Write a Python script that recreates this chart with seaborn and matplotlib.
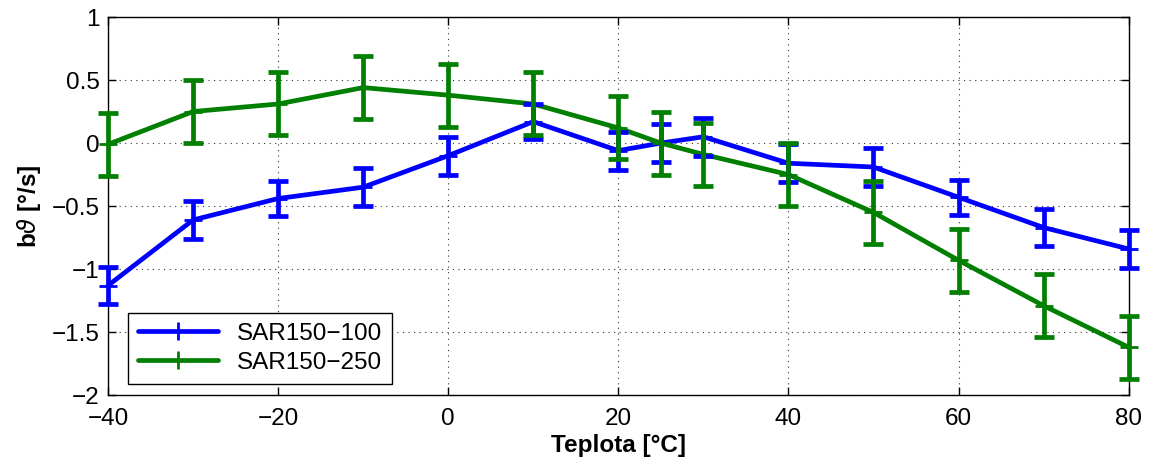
import numpy as np
import pandas as pd
import seaborn as sns
import matplotlib
matplotlib.use('Agg')
import matplotlib.pyplot as plt

# data
teplota = [-40, -30, -20, -10, 0, 10, 20, 25, 30, 40, 50, 60, 70, 80]
b_100 = [-1.13, -0.61, -0.44, -0.35, -0.10, 0.17, -0.06, 0.00, 0.05, -0.16, -0.19, -0.43, -0.67, -0.84]
err_100 = [0.15, 0.15, 0.14, 0.15, 0.15, 0.14, 0.15, 0.15, 0.15, 0.15, 0.15, 0.14, 0.15, 0.15]
b_250 = [-0.01, 0.25, 0.31, 0.44, 0.38, 0.31, 0.12, 0.00, -0.09, -0.25, -0.55, -0.93, -1.29, -1.62]
err_250 = [0.25, 0.25, 0.25, 0.25, 0.25, 0.25, 0.25, 0.25, 0.25, 0.25, 0.25, 0.25, 0.25, 0.25]
series = ['SAR150\u2212100', 'SAR150\u2212250']
colors = ['#0000ff', '#007f00']

df = pd.concat([
    pd.DataFrame({'t': teplota, 'b': b_100, 'err': err_100, 'serie': series[0]}),
    pd.DataFrame({'t': teplota, 'b': b_250, 'err': err_250, 'serie': series[1]}),
])

sns.set_style('white')
plt.rcParams['font.family'] = ['Liberation Sans', 'DejaVu Sans']
plt.rcParams['mathtext.fontset'] = 'dejavusans'
plt.rcParams['text.color'] = 'black'
plt.rcParams['axes.labelcolor'] = 'black'
fs = 17.5

fig = plt.figure(figsize=(11.54, 4.66), dpi=100)
ax = fig.add_axes([0.0936, 0.152, 0.8844, 0.8115])

pal = dict(zip(series, colors))
sns.lineplot(data=df, x='t', y='b', hue='serie', palette=pal, ax=ax,
             linewidth=3.4, marker='+', markersize=13, markeredgewidth=2,
             estimator=None, sort=False, zorder=3)
for line in ax.lines:
    line.set_markeredgecolor(line.get_color())
    line.set_clip_on(False)

for name in series:
    sub = df[df['serie'] == name]
    eb = ax.errorbar(sub['t'], sub['b'], yerr=sub['err'], fmt='none',
                     ecolor=pal[name], elinewidth=3.4, capsize=7.5, capthick=3.4,
                     zorder=3)
    for art in eb.lines[1]:
        art.set_clip_on(False)
    for art in eb.lines[2]:
        art.set_clip_on(False)

ax.set_xlim(-40, 80)
ax.set_ylim(-2, 1)
ax.set_xticks(np.arange(-40, 81, 20))
ax.set_yticks(np.arange(-2, 1.01, 0.5))
ax.set_xticklabels(['\u221240', '\u221220', '0', '20', '40', '60', '80'])
ax.set_yticklabels(['\u22122', '\u22121.5', '\u22121', '\u22120.5', '0', '0.5', '1'])
ax.tick_params(direction='in', length=6, width=1, labelsize=fs, colors='black',
               top=True, right=True, bottom=True, left=True)
ax.tick_params(axis='x', pad=9)
ax.tick_params(axis='y', pad=6)
ax.grid(True, color='black', linestyle=(0, (1, 4)), linewidth=0.8, alpha=0.8)
for s in ax.spines.values():
    s.set_visible(True)
    s.set_color('black')
    s.set_linewidth(1)

ax.set_xlabel('Teplota [°C]', fontsize=fs, fontweight='bold', labelpad=3)
ax.set_ylabel(r'b$\vartheta$ [°/s]', fontsize=fs, fontweight='bold', labelpad=6)

leg = ax.legend(loc='lower left', fontsize=fs, frameon=True, fancybox=False,
                edgecolor='black', handlelength=3.3, borderaxespad=0.4,
                labelspacing=0.3, borderpad=0.4, bbox_to_anchor=(0.01, 0.005))
leg.get_frame().set_linewidth(1)
leg.get_frame().set_alpha(1)

fig.savefig('out.png', dpi=100)
